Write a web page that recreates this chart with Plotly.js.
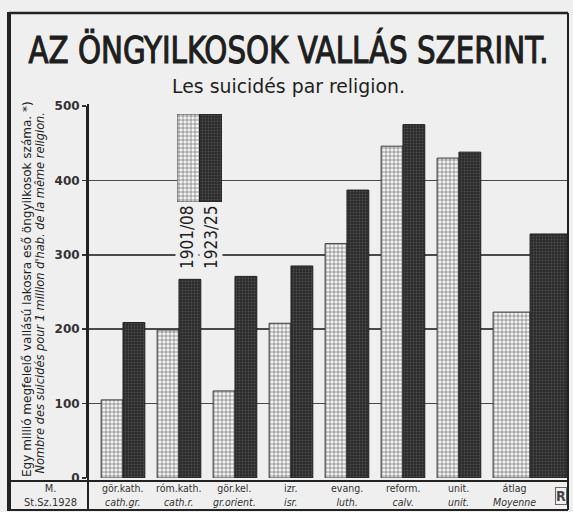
<!DOCTYPE html>
<html><head><meta charset="utf-8">
<script src="https://cdn.plot.ly/plotly-3.0.1.min.js"></script>
<style>html,body{margin:0;padding:0;background:#efefef;}#chart{width:573px;height:512px;}</style>
</head><body><div id="chart"></div>
<script>
// ---- data ----
const categoriesHu = ['gör.kath.','róm.kath.','gör.kel.','izr.','evang.','reform.','unit.','átlag'];
const categoriesFr = ['cath.gr.','cath.r.','gr.orient.','isr.','luth.','calv.','unit.','Moyenne'];
const seriesNames = ['1901/08','1923/25'];
const values1901 = [105,199,117,208,315,446,430,223];
const values1923 = [209,267,271,285,387,475,438,328];
const yTickValues = [0,100,200,300,400,500];
const titleText = 'AZ ÖNGYILKOSOK VALLÁS SZERINT.';
const subtitleText = 'Les suicidés par religion.';
const yTitleHu = 'Egy millió megfelelő vallású lakosra eső öngyilkosok száma. *)';
const yTitleFr = "Nombre des suicidés pour 1 million d'hab. de la même religion.";
const sourceLines = ['M.','St.Sz.1928'];

// ---- layout helpers (pixels -> paper) ----
const L = 88, R = 6, T = 106, B = 34, W = 573, H = 512;
const PW = W - L - R, PH = H - T - B;
const xp = px => (px - L) / PW;
const yp = py => (H - B - py) / PH;

const BG = '#efefef', INK = '#1e1e1e';
const NARROW = 'DejaVu Sans Condensed, Liberation Sans Narrow, DejaVu Sans, sans-serif';

// bar geometry (style): last group (average) is wider and shifted
const barW = categoriesHu.map((c, i) => i === categoriesHu.length - 1 ? 0.66 : 0.39);
const shift = categoriesHu.map((c, i) => i === categoriesHu.length - 1 ? 0.27 : 0);

const lightMarker = {
  color: '#f3f3f3',
  pattern: {shape: '+', size: 4, solidity: 0.28, fgcolor: '#5e5e5e', bgcolor: '#f3f3f3', fillmode: 'replace'},
  line: {color: '#3a3a3a', width: 1}
};
const darkMarker = {
  color: '#2e2e2e',
  pattern: {shape: '.', size: 3, solidity: 0.35, fgcolor: '#4c4c4c', bgcolor: '#2a2a2a', fillmode: 'replace'},
  line: {color: '#222', width: 1}
};

const data = [
  {type: 'bar', name: seriesNames[0], x: categoriesHu, y: values1901,
   width: barW, offset: barW.map((w, i) => -w + shift[i]),
   marker: lightMarker, hoverinfo: 'skip', showlegend: false},
  {type: 'bar', name: seriesNames[1], x: categoriesHu, y: values1923,
   width: barW, offset: barW.map((w, i) => shift[i]),
   marker: darkMarker, hoverinfo: 'skip', showlegend: false},
  // legend swatches drawn on a small inset axis
  {type: 'bar', x: [0], y: [1], width: [1], xaxis: 'x2', yaxis: 'y2', marker: lightMarker, hoverinfo: 'skip', showlegend: false},
  {type: 'bar', x: [1], y: [1], width: [1], xaxis: 'x2', yaxis: 'y2', marker: darkMarker, hoverinfo: 'skip', showlegend: false}
];

const annotations = [];
annotations.push({xref: 'paper', yref: 'paper', x: xp(288), y: yp(86), text: subtitleText, showarrow: false,
  font: {family: NARROW, size: 19, color: INK}, xanchor: 'center', yanchor: 'middle'});
annotations.push({xref: 'paper', yref: 'paper', x: xp(27), y: yp(289), text: yTitleHu, showarrow: false, textangle: -90,
  font: {family: NARROW, size: 12, color: INK}, xanchor: 'center', yanchor: 'middle'});
annotations.push({xref: 'paper', yref: 'paper', x: xp(40), y: yp(293), text: '<i>' + yTitleFr + '</i>', showarrow: false, textangle: -90,
  font: {family: NARROW, size: 12, color: INK}, xanchor: 'center', yanchor: 'middle'});
categoriesHu.forEach((c, i) => {
  annotations.push({xref: 'x', yref: 'paper', x: c, y: yp(495), text: c + '<br><i>' + categoriesFr[i] + '</i>', showarrow: false,
    font: {family: NARROW, size: 10.5, color: '#333'}, xanchor: 'center', yanchor: 'middle'});
});
annotations.push({xref: 'paper', yref: 'paper', x: xp(50), y: yp(495), text: sourceLines.join('<br>'), showarrow: false,
  font: {family: NARROW, size: 11, color: '#333'}, xanchor: 'center', yanchor: 'middle'});
annotations.push({xref: 'paper', yref: 'paper', x: xp(187), y: yp(237), text: seriesNames[0], showarrow: false, textangle: -90,
  font: {family: NARROW, size: 17, color: INK},
  bgcolor: BG, xanchor: 'center', yanchor: 'middle'});
annotations.push({xref: 'paper', yref: 'paper', x: xp(211), y: yp(237), text: seriesNames[1], showarrow: false, textangle: -90,
  font: {family: NARROW, size: 17, color: INK},
  bgcolor: BG, xanchor: 'center', yanchor: 'middle'});
annotations.push({xref: 'paper', yref: 'paper', x: xp(561), y: yp(496), text: '<b>R</b>', showarrow: false,
  font: {family: NARROW, size: 14, color: '#444'}, borderwidth: 1, bordercolor: '#666', borderpad: 0,
  xanchor: 'center', yanchor: 'middle'});

const line = (x0, y0, x1, y1, w, c) => ({type: 'line', xref: 'paper', yref: 'paper',
  x0: xp(x0), y0: yp(y0), x1: xp(x1), y1: yp(y1), line: {color: c || '#222', width: w}, layer: 'above'});
const shapes = [
  line(9, 13, 568, 13, 2.5), line(568, 13, 568, 510, 2), line(9, 510, 568, 510, 2),
  line(9, 12, 9, 511, 4),
  line(88, 104, 88, 510, 2),
  line(9, 481, 568, 481, 2)
];

const layout = {
  width: W, height: H,
  margin: {l: L, r: R, t: T, b: B, pad: 0},
  paper_bgcolor: BG, plot_bgcolor: 'rgba(0,0,0,0)',
  barmode: 'overlay',
  title: {text: titleText, font: {family: NARROW, size: 37, color: INK},
          x: 288.5 / W, xanchor: 'center', xref: 'container', y: 1 - 50 / H, yanchor: 'middle', yref: 'container'},
  xaxis: {type: 'category', range: [-0.625, 7.93], showticklabels: false, ticks: '',
          showgrid: false, zeroline: false, showline: false, fixedrange: true},
  yaxis: {range: [0, 500], tickvals: yTickValues, ticktext: yTickValues.map(String),
          ticks: 'outside', ticklen: 4, tickcolor: '#333', tickwidth: 1.5,
          tickfont: {family: 'DejaVu Sans, sans-serif', size: 12, color: '#333', weight: 'bold'},
          showgrid: true, gridcolor: '#4a4a4a', gridwidth: 1.5,
          zeroline: false, showline: true, linecolor: '#222', linewidth: 2, fixedrange: true},
  xaxis2: {domain: [xp(177), xp(222)], range: [-0.5, 1.5], visible: false, anchor: 'y2', fixedrange: true},
  yaxis2: {domain: [yp(202), yp(114)], range: [0, 1], visible: false, anchor: 'x2', fixedrange: true},
  annotations: annotations,
  shapes: shapes
};

// stretch / squeeze a text horizontally (along its own baseline) to a target length
function fitTexts() {
  const norm = s => s.replace(/[\s\u00a0]+/g, ' ').trim();
  const targets = [[titleText, 520], [subtitleText, 233], [yTitleHu, 376], [yTitleFr, 362]];
  document.querySelectorAll('svg text').forEach(t => {
    const c = norm(t.textContent);
    targets.forEach(([txt, len]) => {
      if (c === norm(txt) && !t.getAttribute('data-fitted')) {
        const bb = t.getBBox();
        if (!bb.width) return;
        const s = len / bb.width;
        const cx = bb.x + bb.width / 2, cy = bb.y + bb.height / 2;
        const prev = t.getAttribute('transform') || '';
        t.setAttribute('transform', prev + ` translate(${cx},${cy}) scale(${s},1) translate(${-cx},${-cy})`);
        t.setAttribute('data-fitted', '1');
        if (txt === titleText) {
          t.style.stroke = INK;
          t.style.strokeWidth = '1.1px';
        }
      }
    });
  });
}
Plotly.newPlot('chart', data, layout, {staticPlot: true, displayModeBar: false}).then(() => {
  fitTexts();
  setTimeout(fitTexts, 50);
});
</script>
</body></html>
